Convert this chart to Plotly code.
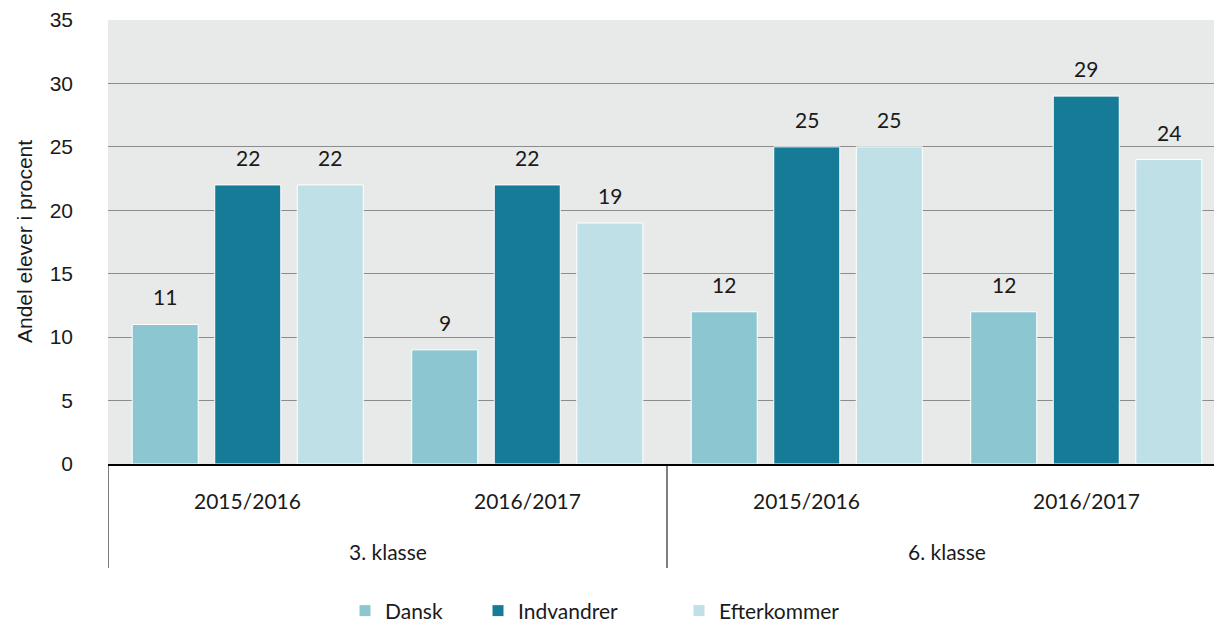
import plotly.graph_objects as go

klasse = ["3. klasse", "3. klasse", "6. klasse", "6. klasse"]
skoleaar = ["2015/2016", "2016/2017", "2015/2016", "2016/2017"]
klasse_groups = ["3. klasse", "6. klasse"]
series = ["Dansk", "Indvandrer", "Efterkommer"]
dansk = [11, 9, 12, 12]
indvandrer = [22, 22, 25, 29]
efterkommer = [22, 19, 25, 24]
values = [dansk, indvandrer, efterkommer]
colors = ["#8cc6d0", "#167b96", "#bfe0e6"]
y_ticks = [0, 5, 10, 15, 20, 25, 30, 35]

bargap = 0.114
bargroupgap = 0.2
LATO = "Lato"
SANS = "Liberation Sans"
TXT = "#1a1a1a"
FS = 21

PL, PT, PB = 108, 20, 464          # plot-area pixel edges
PW = 1214 - PL
PH = PB - PT

def py(pix):  # pixel y -> paper y
    return (PB - pix) / PH

def px(pix):  # pixel x -> paper x
    return (pix - PL) / PW

fig = go.Figure()
legend_names = ["legend", "legend2", "legend3"]
for name, vals, col, lg in zip(series, values, colors, legend_names):
    fig.add_trace(go.Bar(
        x=[klasse, skoleaar], y=vals, name=name, legend=lg,
        marker=dict(color=col, line=dict(color="white", width=1)),
    ))

# value labels above bars
slot = (1 - bargap) / len(series)
for i, vals in enumerate(values):
    off = (i - (len(series) - 1) / 2) * slot
    for j, v in enumerate(vals):
        fig.add_annotation(x=j + off, y=v, xref="x", yref="y", text=str(v),
                           showarrow=False, yanchor="bottom", yshift=13,
                           font=dict(family=LATO, size=FS, color=TXT))

# category labels (inner: school year, outer: klasse)
for j, lab in enumerate(skoleaar):
    fig.add_annotation(x=j, y=py(501), xref="x", yref="paper", text=lab,
                       showarrow=False, yanchor="middle",
                       font=dict(family=LATO, size=FS, color=TXT))
for g, lab in enumerate(klasse_groups):
    fig.add_annotation(x=2 * g + 0.5, y=py(551), xref="x", yref="paper", text=lab,
                       showarrow=False, yanchor="middle",
                       font=dict(family=LATO, size=FS, color=TXT))
# dividers between outer groups
for xd in [-0.5, 1.5, 3.5]:
    fig.add_shape(type="line", xref="x", yref="paper", x0=xd, x1=xd,
                  y0=0, y1=py(568), line=dict(color="black", width=1))

fig.add_annotation(text="Andel elever i procent", textangle=-90,
                   xref="paper", yref="paper", x=px(24), y=0.5,
                   xanchor="center", yanchor="middle", showarrow=False,
                   font=dict(family=SANS, size=FS, color=TXT))

leg_common = dict(orientation="h", xanchor="left", yanchor="middle",
                  yref="paper", y=py(611), bgcolor="rgba(0,0,0,0)",
                  font=dict(family=LATO, size=FS, color=TXT), itemwidth=30)

fig.update_layout(
    width=1214, height=622,
    margin=dict(l=PL, r=0, t=PT, b=622 - PB, autoexpand=False),
    paper_bgcolor="white", plot_bgcolor="#e8e9e9",
    barmode="group", bargap=bargap, bargroupgap=bargroupgap,
    showlegend=True,
    legend=dict(x=px(358 - 13), **leg_common),
    legend2=dict(x=px(493 - 15), **leg_common),
    legend3=dict(x=px(690 - 11), **leg_common),
    xaxis=dict(type="multicategory", range=[-0.5, 3.457], automargin=False,
               showline=True, linecolor="black", linewidth=1.5,
               showdividers=False, showticklabels=False,
               showgrid=False, ticks=""),
    yaxis=dict(range=[0, 35], tickvals=y_ticks, showgrid=True, automargin=False,
               gridcolor="#8c8c8c", gridwidth=1, zeroline=False,
               showline=False, ticks="",
               tickfont=dict(family=SANS, size=FS, color=TXT),
               ticklabelstandoff=34),
)

fig.write_html("out.html", config={"displayModeBar": False},
               post_script="document.body.style.margin='0';document.body.style.overflow='hidden';")
